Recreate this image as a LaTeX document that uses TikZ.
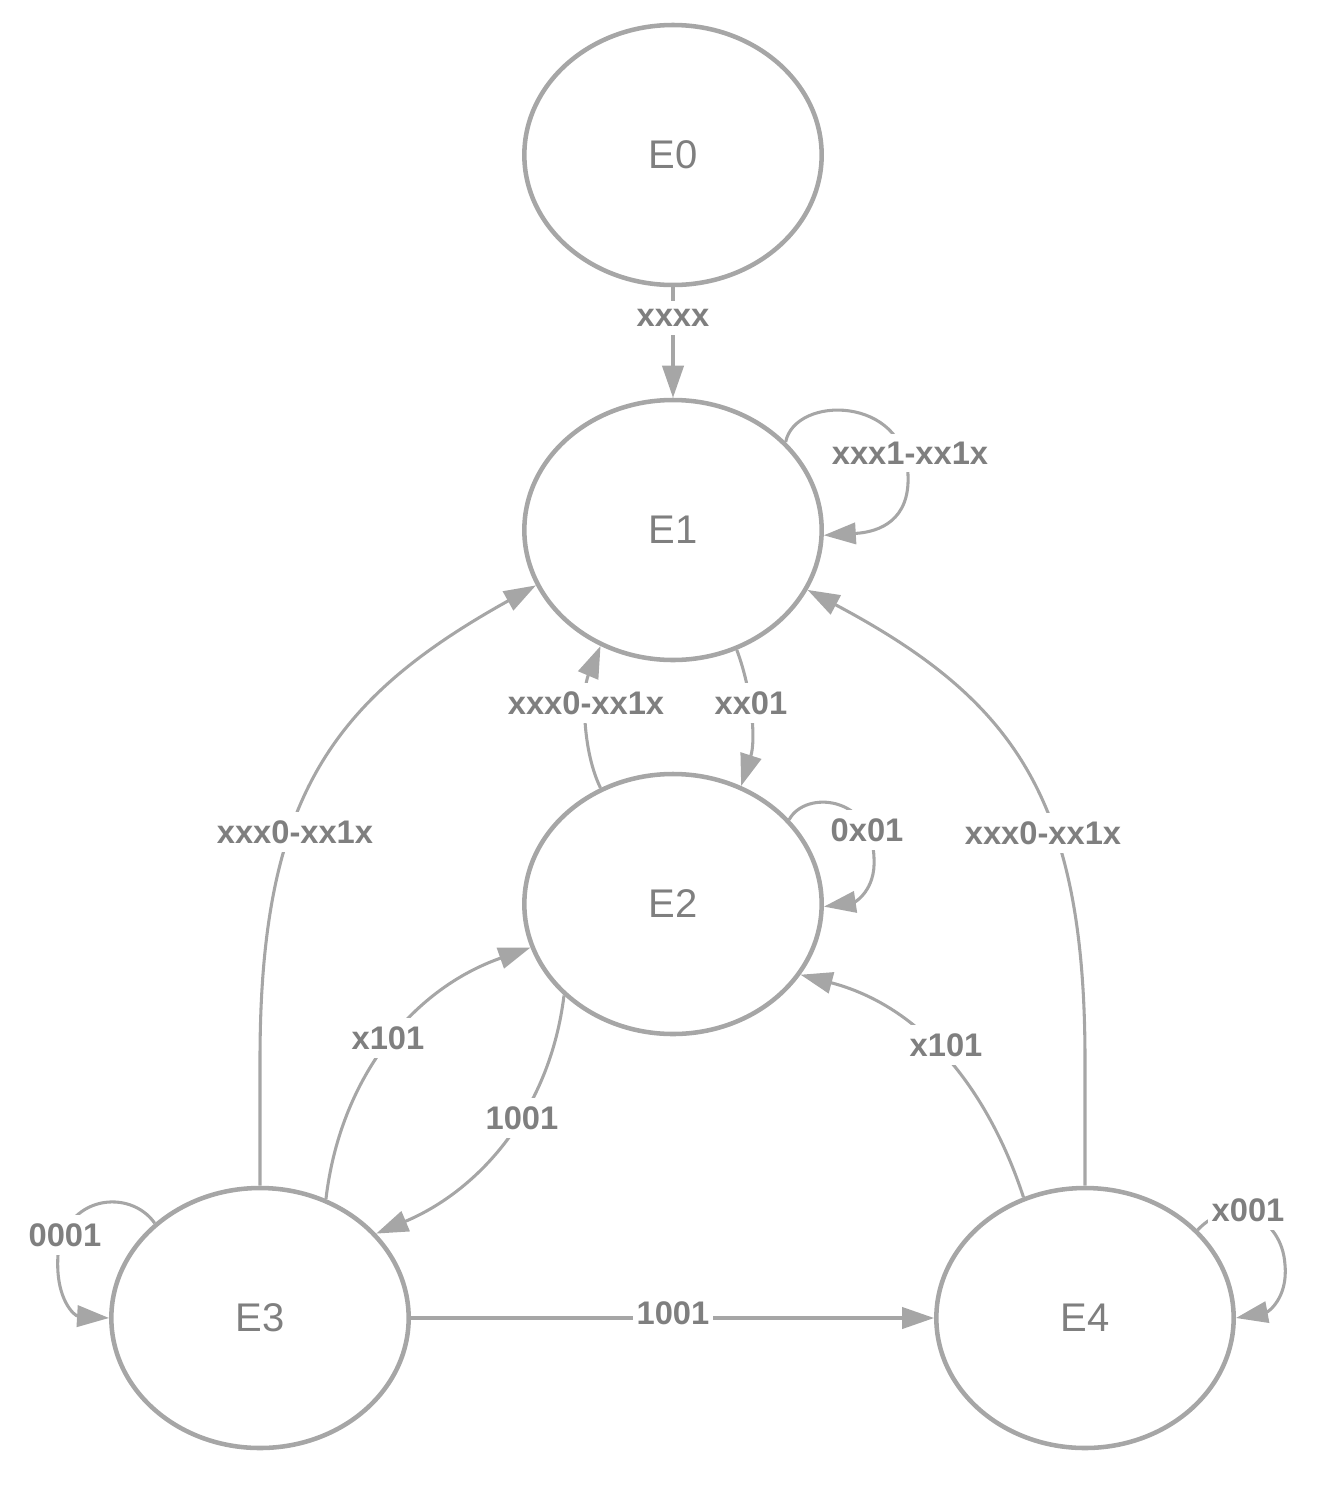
\documentclass[tikz,border=0pt]{standalone}
\usepackage{fontspec}
\setmainfont{Liberation Sans}
\usetikzlibrary{arrows.meta,shapes.geometric}
\definecolor{lc}{HTML}{A6A6A6}
\definecolor{tc}{HTML}{7F7F7F}
\begin{document}
\begin{tikzpicture}[x=0.75pt,y=-0.75pt,
 st/.style={ellipse,draw=lc,line width=3.4pt,minimum width=223pt,minimum height=195pt,inner sep=0pt,text=tc,font=\fontsize{30}{36}\selectfont},
 edge/.style={draw=lc,line width=2.3pt,-{Triangle[length=24pt,width=16pt]}},
 lbl/.style={fill=white,text=tc,font=\bfseries\fontsize{24.5}{29}\selectfont,inner xsep=3pt,inner ysep=6pt}]
\useasboundingbox (0,0) rectangle (1329,1485);
\node[st] (E0) at (673,155) {E0};
\node[st] (E1) at (673,530) {E1};
\node[st] (E2) at (673,904) {E2};
\node[st] (E3) at (260,1318) {E3};
\node[st] (E4) at (1085,1318) {E4};
% edges
\draw[edge] (E0.south) -- (E1.north);
\draw[edge] (E1.38) .. controls (795,395) and (905,395) .. (908,475) .. controls (910,520) and (880,532) .. (E1.-2);
\draw[edge] (E1.298) .. controls (752,690) and (756,740) .. (E2.60);
\draw[edge] (E2.122) .. controls (582,750) and (582,690) .. (E1.238);
\draw[edge] (E2.36) .. controls (805,790) and (872,795) .. (874,858) .. controls (876,890) and (855,902) .. (E2.-1);
\draw[edge] (E3.north) -- (260,1060) .. controls (260,800) and (330,700) .. (E1.202);
\draw[edge] (E4.north) -- (1085,1060) .. controls (1085,800) and (1015,700) .. (E1.336);
\draw[edge] (E3.61) .. controls (340,1080) and (410,990) .. (E2.197);
\draw[edge] (E2.220) .. controls (550,1110) and (480,1190) .. (E3.36);
\draw[edge] (E4.117) .. controls (995,1110) and (935,1010) .. (E2.331);
\draw[edge] (E3.138) .. controls (130,1188) and (65,1195) .. (58,1255) .. controls (55,1300) and (75,1316) .. (E3.west);
\draw[edge] (E4.38) .. controls (1230,1195) and (1282,1215) .. (1285,1265) .. controls (1288,1298) and (1268,1312) .. (E4.east);
\draw[edge] (E3.east) -- (E4.west);
% labels
\node[lbl] (L1) at (673,318) {xxxx};
\node[lbl] (L2) at (910,453) {xxx1-xx1x};
\node[lbl] (L3) at (586,703) {xxx0-xx1x};
\node[lbl] (L4) at (751,703) {xx01};
\node[lbl] (L5) at (867,830) {0x01};
\node[lbl] (L6) at (295,832) {xxx0-xx1x};
\node[lbl] (L7) at (1043,833) {xxx0-xx1x};
\node[lbl] (L8) at (388,1038) {x101};
\node[lbl] (L9) at (522,1118) {1001};
\node[lbl] (L10) at (946,1045) {x101};
\node[lbl] (L11) at (65,1235) {0001};
\node[lbl] (L12) at (1248,1210) {x001};
\node[lbl] (L13) at (673,1313) {1001};
\end{tikzpicture}
\end{document}
